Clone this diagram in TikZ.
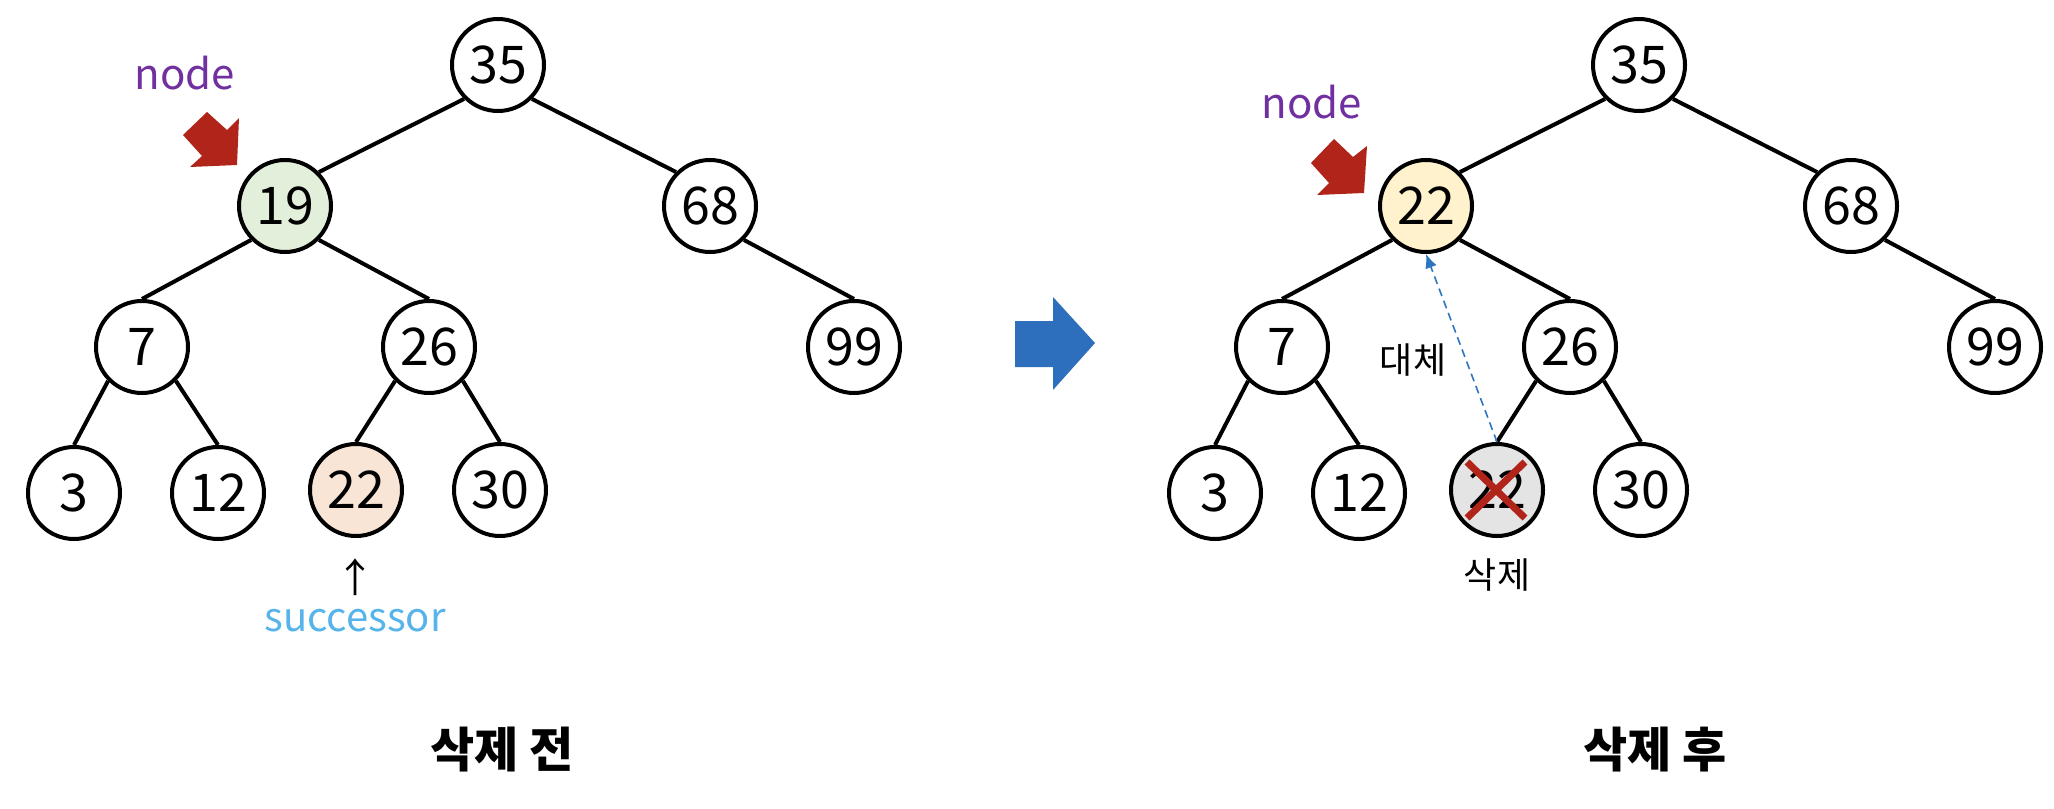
\documentclass[tikz,border=0pt]{standalone}
\usepackage{fontspec}
\setmainfont{Noto Sans CJK KR}
\usetikzlibrary{arrows.meta}
\definecolor{nodepurple}{HTML}{7030A0}
\definecolor{redarrow}{HTML}{B0241A}
\definecolor{bigblue}{HTML}{2E6FBD}
\definecolor{succblue}{HTML}{56B4EA}
\definecolor{dashblue}{HTML}{2E75C0}
\definecolor{fillgreen}{HTML}{E2EFDA}
\definecolor{fillpeach}{HTML}{F8E5D6}
\definecolor{fillyellow}{HTML}{FFF2CC}
\definecolor{fillgray}{HTML}{E4E4E4}
\tikzset{
  bst/.style={circle, draw=black, line width=2pt, fill=white, minimum size=46pt, inner sep=0pt,
    font=\fontsize{26}{28}\selectfont},
  edge/.style={line width=2pt, draw=black},
  lbl/.style={font=\fontsize{21}{24}\selectfont, text=nodepurple},
  korsmall/.style={font=\fontsize{18}{22}\selectfont},
  title/.style={font=\fontsize{24}{28}\selectfont\bfseries},
}
\begin{document}
\begin{tikzpicture}[x=0.5pt,y=-0.5pt]
\useasboundingbox (0,0) rectangle (2054,808);
% ---------- left tree ----------
\node[bst] (a35) at (498,65) {35};
\node[bst, fill=fillgreen] (a19) at (285,206) {19};
\node[bst] (a68) at (710,206) {68};
\node[bst] (a7) at (142,347) {7};
\node[bst] (a26) at (429,347) {26};
\node[bst] (a99) at (854,347) {99};
\node[bst] (a3) at (74,493) {3};
\node[bst] (a12) at (218,493) {12};
\node[bst, fill=fillpeach] (a22) at (356,490) {22};
\node[bst] (a30) at (500,490) {30};
\draw[edge] (a35.south west) -- (a19.north east);
\draw[edge] (a35.south east) -- (a68.north west);
\draw[edge] (a19.south west) -- (a7.north);
\draw[edge] (a19.south east) -- (a26.north);
\draw[edge] (a68.south east) -- (a99.north);
\draw[edge] (a7.south west) -- (a3.north);
\draw[edge] (a7.south east) -- (a12.north);
\draw[edge] (a26.south west) -- (a22.north);
\draw[edge] (a26.south east) -- (a30.north);
\node[lbl] (alabel) at (185,73) {node};
\fill[redarrow] (183,135) -- (207,112) -- (227,130) -- (239,118) -- (237,165) -- (190,167) -- (202,156) -- cycle;
\node[font=\fontsize{20}{22}\selectfont] (aup) at (355,577) {↑};
\node[font=\fontsize{20}{24}\selectfont, text=succblue] (asucc) at (355,621) {successor};
\node[title] (atitle) at (502,750) {삭제 전};
% ---------- big arrow ----------
\fill[bigblue] (1015,321) -- (1053,321) -- (1053,297) -- (1095,343) -- (1053,390) -- (1053,367) -- (1015,367) -- cycle;
% ---------- right tree ----------
\node[bst] (b35) at (1639,65) {35};
\node[bst, fill=fillyellow] (b22) at (1426,206) {22};
\node[bst] (b68) at (1851,206) {68};
\node[bst] (b7) at (1282,347) {7};
\node[bst] (b26) at (1570,347) {26};
\node[bst] (b99) at (1995,347) {99};
\node[bst] (b3) at (1215,493) {3};
\node[bst] (b12) at (1359,493) {12};
\node[bst, fill=fillgray] (bdel) at (1497,490) {22};
\node[bst] (b30) at (1641,490) {30};
\draw[edge] (b35.south west) -- (b22.north east);
\draw[edge] (b35.south east) -- (b68.north west);
\draw[edge] (b22.south west) -- (b7.north);
\draw[edge] (b22.south east) -- (b26.north);
\draw[edge] (b68.south east) -- (b99.north);
\draw[edge] (b7.south west) -- (b3.north);
\draw[edge] (b7.south east) -- (b12.north);
\draw[edge] (b26.south west) -- (bdel.north);
\draw[edge] (b26.south east) -- (b30.north);
\draw[redarrow, line width=3.5pt] ([shift={(-30,-28)}]bdel.center) -- ([shift={(28,28)}]bdel.center);
\draw[redarrow, line width=3.5pt] ([shift={(28,-28)}]bdel.center) -- ([shift={(-30,28)}]bdel.center);
\node[lbl] (blabel) at (1312,102) {node};
\fill[redarrow] (1311,163) -- (1334,139) -- (1353,157) -- (1367,146) -- (1364,193) -- (1317,195) -- (1329,183) -- cycle;
\draw[dashblue, line width=0.8pt, dash pattern=on 4pt off 2.5pt, -{Latex[length=7pt,width=6pt]}] (bdel.north) -- (b22.south);
\node[korsmall] (brepl) at (1413,360) {대체};
\node[korsmall] (bdeltxt) at (1497,575) {삭제};
\node[title] (btitle) at (1655,750) {삭제 후};
\end{tikzpicture}
\end{document}
